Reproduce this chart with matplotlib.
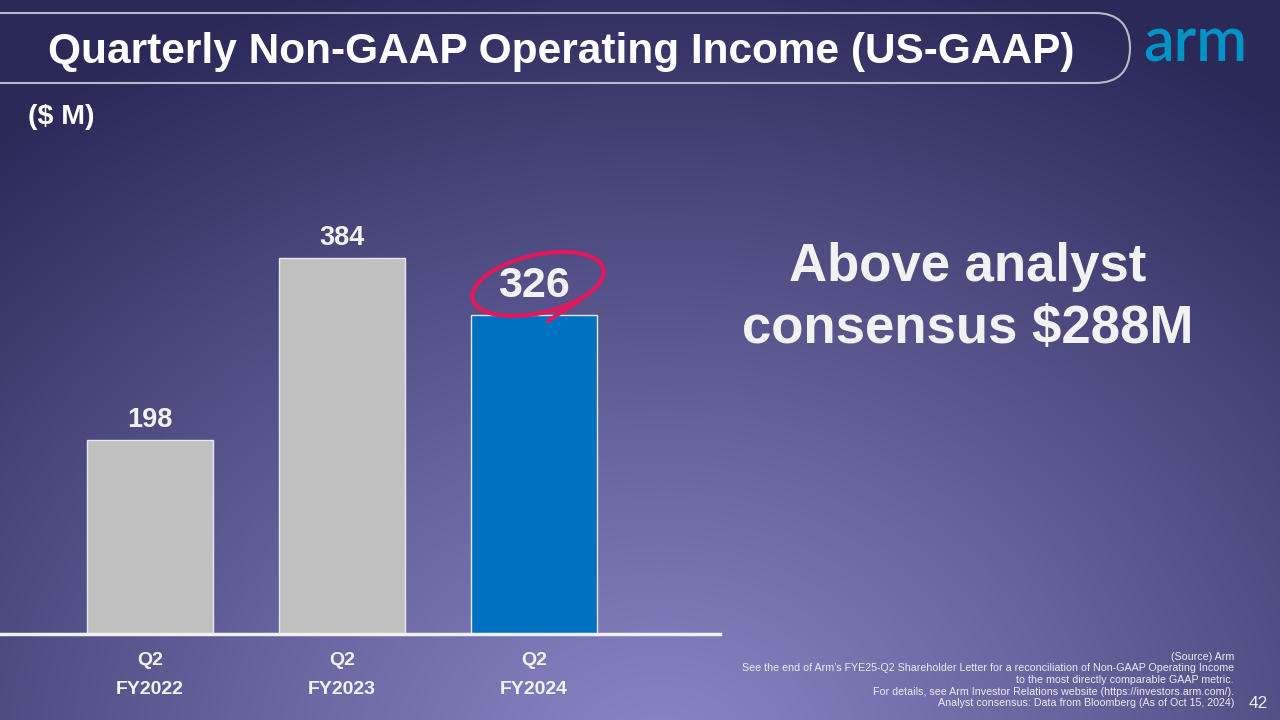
import numpy as np
import matplotlib.pyplot as plt
from matplotlib.patches import FancyBboxPatch, Ellipse
from matplotlib.transforms import IdentityTransform

plt.rcParams['font.family'] = ['Liberation Sans', 'DejaVu Sans']

categories = ["Q2\nFY2022", "Q2\nFY2023", "Q2\nFY2024"]
values = [198, 384, 326]
bar_colors = ["#c0c0c0", "#c0c0c0", "#0070c0"]
title = "Quarterly Non-GAAP Operating Income (US-GAAP)"
callout = "Above analyst\nconsensus $288M"
notes = ("(Source) Arm\n"
         "See the end of Arm\u2019s FYE25-Q2 Shareholder Letter for a reconciliation of Non-GAAP Operating Income\n"
         "to the most directly comparable GAAP metric.\n"
         "For details, see Arm Investor Relations website (https://investors.arm.com/).\n"
         "Analyst consensus: Data from Bloomberg (As of Oct 15, 2024)")

fig = plt.figure(figsize=(12.8, 7.2), dpi=100)

# background: radial glow from the bottom centre
bg = fig.add_axes([0, 0, 1, 1])
yy, xx = np.mgrid[0:720, 0:1280]
d = np.sqrt(((xx - 660) / 1.25) ** 2 + (yy - 760) ** 2) / 820
d = np.clip(d, 0, 1) ** 1.1
light = np.array([0x8a, 0x85, 0xc6]) / 255
dark = np.array([0x2a, 0x29, 0x58]) / 255
img = light[None, None, :] * (1 - d[..., None]) + dark[None, None, :] * d[..., None]
bg.imshow(img, extent=[0, 1280, 720, 0], aspect="auto")
bg.set_xlim(0, 1280)
bg.set_ylim(720, 0)
bg.axis("off")

# title frame
frame = FancyBboxPatch((-60, 13), 1190, 70, boxstyle="round,pad=0,rounding_size=35",
                       fill=False, edgecolor="#b8b8c8", linewidth=1.5)
bg.add_patch(frame)
bg.text(48, 52, title, color="white", fontsize=30.5, fontweight="bold", va="center", ha="left")
bg.text(1195, 44, "arm", color="#0093c6", fontsize=44, fontweight="semibold",
        family=["Lato", "DejaVu Sans"], va="center", ha="center")
bg.text(28, 117, "($ M)", color="white", fontsize=20.5, fontweight="bold", va="center")

bg.text(968, 298, callout, color="#f2f2f2", fontsize=38, fontweight="bold",
        ha="center", va="center", linespacing=1.32)
bg.text(1234, 680, notes, color="#ececf4", fontsize=7.7, ha="right", va="center",
        linespacing=1.2)
bg.text(1268, 704, "42", color="#ececf4", fontsize=12.5, ha="right", va="center")

# bar chart
ax = fig.add_axes([0, (720 - 634) / 720, 720 / 1280, 534 / 720])
ax.patch.set_alpha(0)
x = np.arange(len(values))
ax.bar(x, values, width=0.66, color=bar_colors, edgecolor="#e8e8f0", linewidth=1)
ax.set_xlim(-150 / 192, 570 / 192)
ax.set_ylim(0, 545)
for s in ["top", "right", "left"]:
    ax.spines[s].set_visible(False)
ax.spines["bottom"].set_color("#f0f0f0")
ax.spines["bottom"].set_linewidth(2.5)
ax.set_yticks([])
ax.set_xticks(x)
ax.set_xticklabels(categories, color="#f2f2f2", fontsize=14, fontweight="bold", linespacing=1.95)
ax.tick_params(axis="x", length=0, pad=13)

for i, v in enumerate(values):
    big = i == len(values) - 1
    ax.text(x[i], v + (29 if big else 20), str(v), ha="center", va="center",
            color="#f2f2f2", fontweight="bold", fontsize=31 if big else 19.5)

# hand-drawn style circle round the last value (pixel coordinates, origin bottom-left)
ring = Ellipse((538, 720 - 284), 134, 58, angle=13, fill=False,
               edgecolor="#e3175c", linewidth=3, transform=IdentityTransform())
fig.patches.append(ring)
tail = plt.Line2D([548, 580], [720 - 321, 720 - 300], color="#e3175c", linewidth=3,
                  transform=IdentityTransform(), solid_capstyle="round")
fig.lines.append(tail)

fig.savefig("out.png", dpi=100)
